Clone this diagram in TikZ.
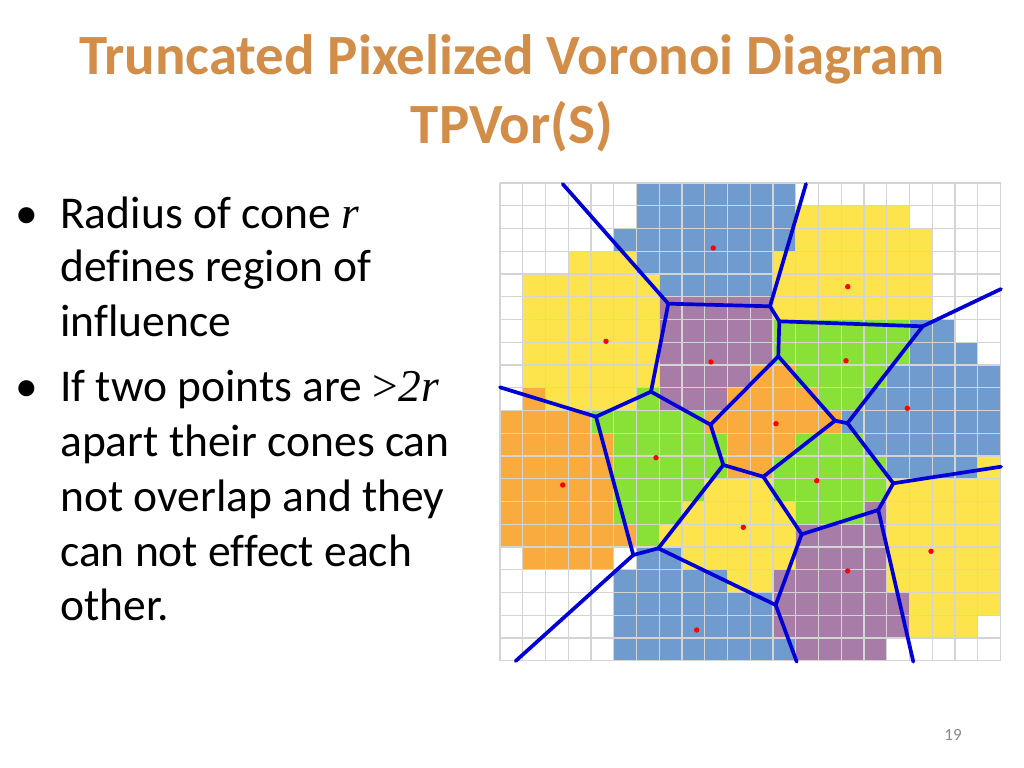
\documentclass[tikz,border=0pt]{standalone}
\usepackage{fontspec}
\setmainfont[Ligatures=NoCommon]{Carlito}
\newfontfamily\serifit{Liberation Serif}
\definecolor{cB}{RGB}{112,155,206}
\definecolor{cY}{RGB}{253,228,77}
\definecolor{cP}{RGB}{167,124,166}
\definecolor{cG}{RGB}{137,224,55}
\definecolor{cO}{RGB}{250,171,62}
\definecolor{cW}{RGB}{255,255,255}
\definecolor{titlecol}{RGB}{210,142,72}
\definecolor{vorline}{RGB}{0,0,214}
\definecolor{gridcol}{RGB}{212,212,212}
\definecolor{numcol}{RGB}{137,137,137}
\begin{document}
\begin{tikzpicture}[x=0.703125pt,y=-0.703125pt,
  vedge/.style={draw=vorline,line width=2.6pt,line cap=round,line join=round},
  gridline/.style={draw=gridcol,line width=0.8pt},
  site/.style={circle,fill=red,draw=none,inner sep=0pt,minimum size=3.8pt},
  title/.style={font=\fontsize{40}{48}\selectfont\bfseries,text=titlecol,anchor=base,inner sep=0pt},
  body/.style={font=\fontsize{32}{38}\selectfont,anchor=base west,inner sep=0pt},
]
\useasboundingbox[fill=white] (0,0) rectangle (1024,768);

% cells
\foreach \rowlist [count=\r from 0] in {
 {W,W,W,W,W,W,B,B,B,B,B,B,B,W,W,W,W,W,W,W,W,W},
 {W,W,W,W,W,W,B,B,B,B,B,B,B,Y,Y,Y,Y,Y,W,W,W,W},
 {W,W,W,W,W,B,B,B,B,B,B,B,B,Y,Y,Y,Y,Y,Y,W,W,W},
 {W,W,W,Y,Y,Y,B,B,B,B,B,B,Y,Y,Y,Y,Y,Y,Y,W,W,W},
 {W,Y,Y,Y,Y,Y,Y,B,B,B,B,B,Y,Y,Y,Y,Y,Y,Y,W,W,W},
 {W,Y,Y,Y,Y,Y,Y,P,P,P,P,P,Y,Y,Y,Y,Y,Y,Y,W,W,W},
 {W,Y,Y,Y,Y,Y,Y,P,P,P,P,P,G,G,G,G,G,G,B,B,W,W},
 {W,Y,Y,Y,Y,Y,Y,P,P,P,P,P,G,G,G,G,G,G,B,B,B,W},
 {W,Y,Y,Y,Y,Y,Y,P,P,P,P,O,O,G,G,G,G,B,B,B,B,B},
 {W,O,Y,Y,Y,Y,G,P,P,P,O,O,O,O,G,G,B,B,B,B,B,B},
 {O,O,O,O,G,G,G,G,G,O,O,O,O,O,O,B,B,B,B,B,B,B},
 {O,O,O,O,O,G,G,G,G,G,O,O,O,G,G,G,B,B,B,B,B,B},
 {O,O,O,O,O,G,G,G,G,G,O,O,G,G,G,G,G,B,B,B,B,Y},
 {O,O,O,O,O,G,G,G,G,Y,Y,Y,G,G,G,G,G,Y,Y,Y,Y,Y},
 {O,O,O,O,O,G,G,G,Y,Y,Y,Y,Y,G,G,G,P,Y,Y,Y,Y,Y},
 {O,O,O,O,O,O,G,Y,Y,Y,Y,Y,Y,P,P,P,P,Y,Y,Y,Y,Y},
 {W,O,O,O,O,W,B,B,Y,Y,Y,Y,Y,P,P,P,P,Y,Y,Y,Y,Y},
 {W,W,W,W,W,B,B,B,B,B,Y,Y,P,P,P,P,P,Y,Y,Y,Y,Y},
 {W,W,W,W,W,B,B,B,B,B,B,B,P,P,P,P,P,P,Y,Y,Y,Y},
 {W,W,W,W,W,B,B,B,B,B,B,B,P,P,P,P,P,P,Y,Y,Y,W},
 {W,W,W,W,W,B,B,B,B,B,B,B,B,P,P,P,P,W,W,W,W,W}}{
  \foreach \c [count=\i from 0] in \rowlist {
    \fill[fill=c\c] ({500+22.75*\i},{183+22.75*\r}) rectangle ++(22.75,22.75);
  }
}

% grid
\foreach \i in {0,...,22} \draw[gridline] ({500+22.75*\i},183) -- ({500+22.75*\i},660.75);
\foreach \j in {0,...,21} \draw[gridline] (500,{183+22.75*\j}) -- (1000.5,{183+22.75*\j});

% Voronoi vertices
\coordinate (V1) at (668.3,303.7);
\coordinate (V2) at (770,306.3);
\coordinate (V3) at (779.3,321.3);
\coordinate (V4) at (922.7,326.3);
\coordinate (V5) at (778.3,356.3);
\coordinate (V6) at (651,391.7);
\coordinate (V7) at (596,416.7);
\coordinate (V8) at (710.5,424.7);
\coordinate (V9) at (835,420.7);
\coordinate (V10) at (847.5,423.2);
\coordinate (V11) at (723.3,465);
\coordinate (V12) at (763.3,476.7);
\coordinate (V13) at (633.3,555);
\coordinate (V14) at (658.3,548.3);
\coordinate (V15) at (801.7,534.3);
\coordinate (V16) at (878.3,510);
\coordinate (V17) at (893.3,483.3);
\coordinate (V18) at (775.7,605);
\coordinate (E1) at (562.7,184);
\coordinate (E2) at (806,184);
\coordinate (E3) at (1001,289);
\coordinate (E4) at (500,387.3);
\coordinate (E5) at (1001,466.7);
\coordinate (E6) at (515.7,661);
\coordinate (E7) at (796.7,661.7);
\coordinate (E8) at (913.3,661.7);

\foreach \a/\b in {V1/V2,V1/V6,V2/V3,V3/V4,V3/V5,V4/V10,V5/V8,V5/V9,V6/V7,V6/V8,
  V7/V13,V8/V11,V9/V10,V9/V12,V10/V17,V11/V12,V11/V14,V12/V15,V13/V14,V14/V18,
  V15/V16,V15/V18,V16/V17,V16/E8,V17/E5,V18/E7,V13/E6,V7/E4,V4/E3,V2/E2,V1/E1}
  \draw[vedge] (\a) -- (\b);

% sites
\node[site] (s1) at (713.3,248) {};
\node[site] (s2) at (606,341.3) {};
\node[site] (s3) at (711,362) {};
\node[site] (s4) at (847.7,286.7) {};
\node[site] (s5) at (846,360.7) {};
\node[site] (s6) at (907.3,408.3) {};
\node[site] (s7) at (776,423.7) {};
\node[site] (s8) at (656,457.7) {};
\node[site] (s9) at (562.7,485) {};
\node[site] (s10) at (743.3,527.3) {};
\node[site] (s11) at (696.7,630) {};
\node[site] (s12) at (816.7,480.7) {};
\node[site] (s13) at (847.7,571) {};
\node[site] (s14) at (931,551.3) {};

% title
\node[title] (t1) at (512,75) {Truncated Pixelized Voronoi Diagram};
\node[title] (t2) at (512,143.3) {TPVor(S)};

% bullets and body
\node[body] (b1) at (15,228.3) {•};
\node[body] (b2) at (15,401.7) {•};
\node[body] (l1) at (60,228.3) {Radius of cone {\serifit\itshape r}};
\node[body] (l2) at (60,281.7) {defines region of};
\node[body] (l3) at (60,336.7) {influence};
\node[body] (l4) at (60,401.7) {If two points are {\serifit >\itshape 2r}};
\node[body] (l5) at (60,456.7) {apart their cones can};
\node[body] (l6) at (60,511.7) {not overlap and they};
\node[body] (l7) at (60,566.7) {can not effect each};
\node[body] (l8) at (60,620) {other.};

\node[font=\fontsize{12}{14}\selectfont,text=numcol,inner sep=0pt] (pn) at (953,735) {19};
\end{tikzpicture}
\end{document}
